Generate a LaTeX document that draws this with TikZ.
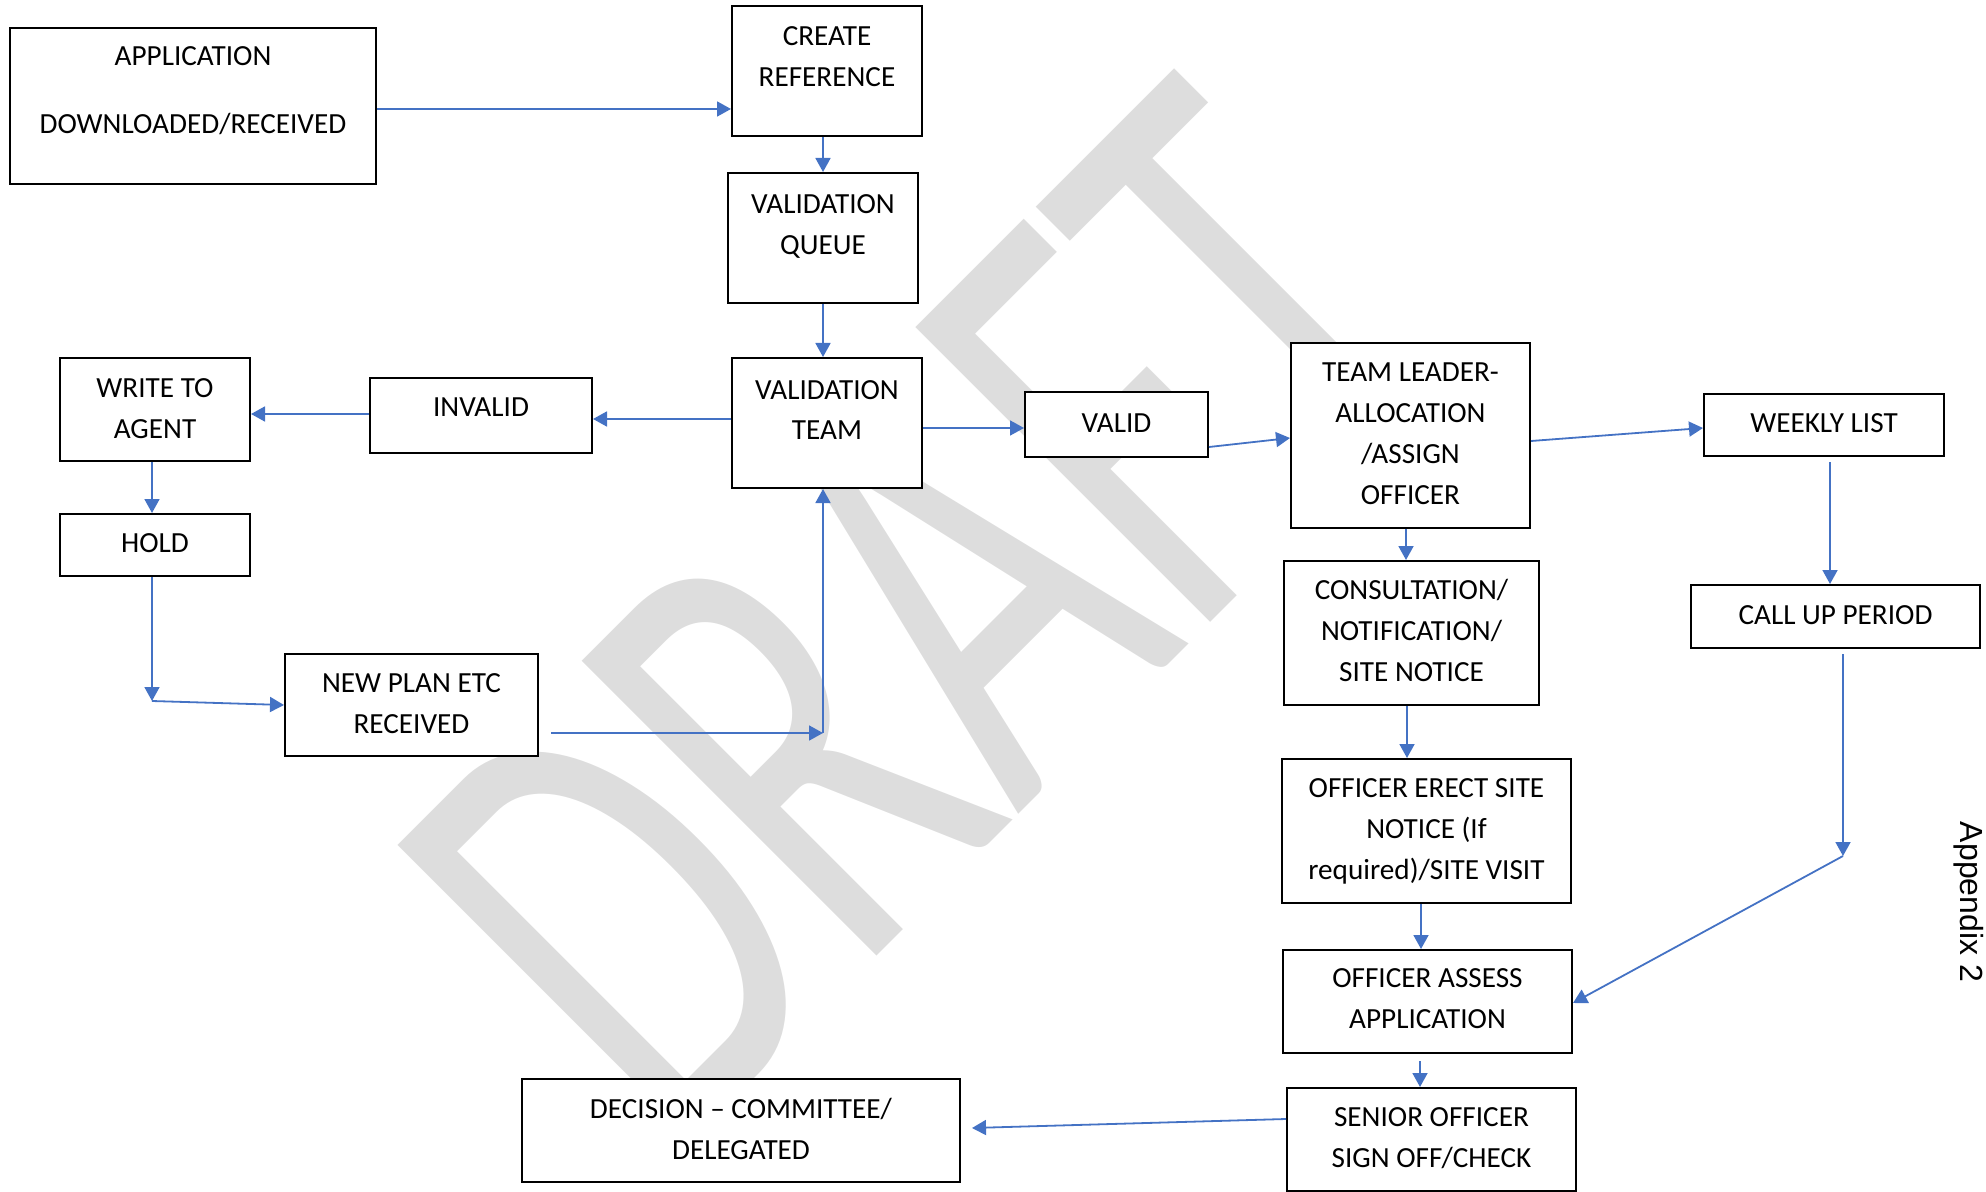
\documentclass[tikz,border=0pt]{standalone}
\usepackage{fontspec}
\setmainfont{Carlito}
\newfontfamily\arialfam{Liberation Sans}
\usetikzlibrary{arrows.meta,fit}
\definecolor{lnblue}{HTML}{4472C4}
\definecolor{wmgray}{RGB}{221,221,221}
% name, x1, y1, x2, y2, last-line baseline y, text
\newcommand\flowbox[7]{%
  \node[box, fit={(#2,#3) (#4,#5)}] (#1) {};
  \node[txt, anchor=base] (#1t) at ({(#2+#4)/2},#6) {#7};
}
\begin{document}
\begin{tikzpicture}[x=0.5pt,y=-0.5pt,
  box/.style={draw=black, line width=1pt, fill=white, inner sep=0pt},
  txt/.style={align=center, inner sep=0pt, font=\fontsize{14.6}{20.5}\selectfont},
  conn/.style={draw=lnblue, line width=0.9pt, -{Triangle[length=7pt,width=7.5pt]}},
  wm/.style={text=wmgray, inner sep=0pt, font=\fontsize{211}{211}\selectfont}]
\useasboundingbox (0,0) rectangle (1986,1192);
% watermark
\node[wm, anchor=base west, rotate=45, yscale=1.54] (draft) at (672,1161) {DRAFT};
% boxes
\flowbox{app}{10}{28}{376}{184}{134}{APPLICATION\\[13.5pt]DOWNLOADED/RECEIVED}
\flowbox{create}{732}{6}{922}{136}{87}{CREATE\\REFERENCE}
\flowbox{vq}{728}{173}{918}{303}{255}{VALIDATION\\QUEUE}
\flowbox{vt}{732}{358}{922}{488}{440}{VALIDATION\\TEAM}
\flowbox{invalid}{370}{378}{592}{453}{416}{INVALID}
\flowbox{write}{60}{358}{250}{461}{438}{WRITE TO\\AGENT}
\flowbox{hold}{60}{514}{250}{576}{552}{HOLD}
\flowbox{newplan}{285}{654}{538}{756}{733}{NEW PLAN ETC\\RECEIVED}
\flowbox{valid}{1025}{392}{1208}{457}{432}{VALID}
\flowbox{tl}{1291}{343}{1530}{528}{504}{TEAM LEADER-\\ALLOCATION\\/ASSIGN\\OFFICER}
\flowbox{weekly}{1704}{394}{1944}{456}{432}{WEEKLY LIST}
\flowbox{cons}{1284}{561}{1539}{705}{681}{CONSULTATION/\\NOTIFICATION/\\SITE NOTICE}
\flowbox{callup}{1691}{585}{1980}{648}{624}{CALL UP PERIOD}
\flowbox{erect}{1282}{759}{1571}{903}{879}{OFFICER ERECT SITE\\NOTICE (If\\required)/SITE VISIT}
\flowbox{assess}{1283}{950}{1572}{1053}{1028}{OFFICER ASSESS\\APPLICATION}
\flowbox{senior}{1287}{1088}{1576}{1191}{1167}{SENIOR OFFICER\\SIGN OFF/CHECK}
\flowbox{decision}{522}{1079}{960}{1182}{1159}{DECISION -- COMMITTEE/\\DELEGATED}
\node[rotate=-90, inner sep=0pt, font=\arialfam\fontsize{16}{16}\selectfont] (appx) at (1969,902) {Appendix 2};
% helper coordinates
\coordinate (holdbend) at (152,701);
\coordinate (npout) at (551,733);
\coordinate (npbend) at (823,733);
\coordinate (wkout) at (1830,462);
\coordinate (cuout) at (1843,654);
\coordinate (cubend) at (1843,856);
\coordinate (asout) at (1420,1061);
\coordinate (decin) at (972,1128);
% connectors
\draw[conn] (app.east |- 0,109) -- (create.west |- 0,109);
\draw[conn] (create.south -| 823,0) -- (vq.north -| 823,0);
\draw[conn] (vq.south -| 823,0) -- (vt.north -| 823,0);
\draw[conn] (vt.west |- 0,419) -- (invalid.east |- 0,419);
\draw[conn] (invalid.west |- 0,414) -- (write.east |- 0,414);
\draw[conn] (write.south -| 152,0) -- (hold.north -| 152,0);
\draw[conn] (hold.south -| 152,0) -- (holdbend);
\draw[conn] (holdbend) -- (newplan.west |- 0,705);
\draw[conn] (npout) -- (npbend);
\draw[conn] (npbend) -- (vt.south -| npbend);
\draw[conn] (vt.east |- 0,428) -- (valid.west |- 0,428);
\draw[conn] (valid.east |- 0,447) -- (tl.west |- 0,438);
\draw[conn] (tl.east |- 0,441) -- (weekly.west |- 0,428);
\draw[conn] (tl.south -| 1406,0) -- (cons.north -| 1406,0);
\draw[conn] (wkout) -- (callup.north -| wkout);
\draw[conn] (cons.south -| 1407,0) -- (erect.north -| 1407,0);
\draw[conn] (cuout) -- (cubend);
\draw[conn] (cubend) -- (assess.east |- 0,1003);
\draw[conn] (erect.south -| 1421,0) -- (assess.north -| 1421,0);
\draw[conn] (asout) -- (senior.north -| asout);
\draw[conn] (senior.west |- 0,1119) -- (decin);
\end{tikzpicture}
\end{document}
